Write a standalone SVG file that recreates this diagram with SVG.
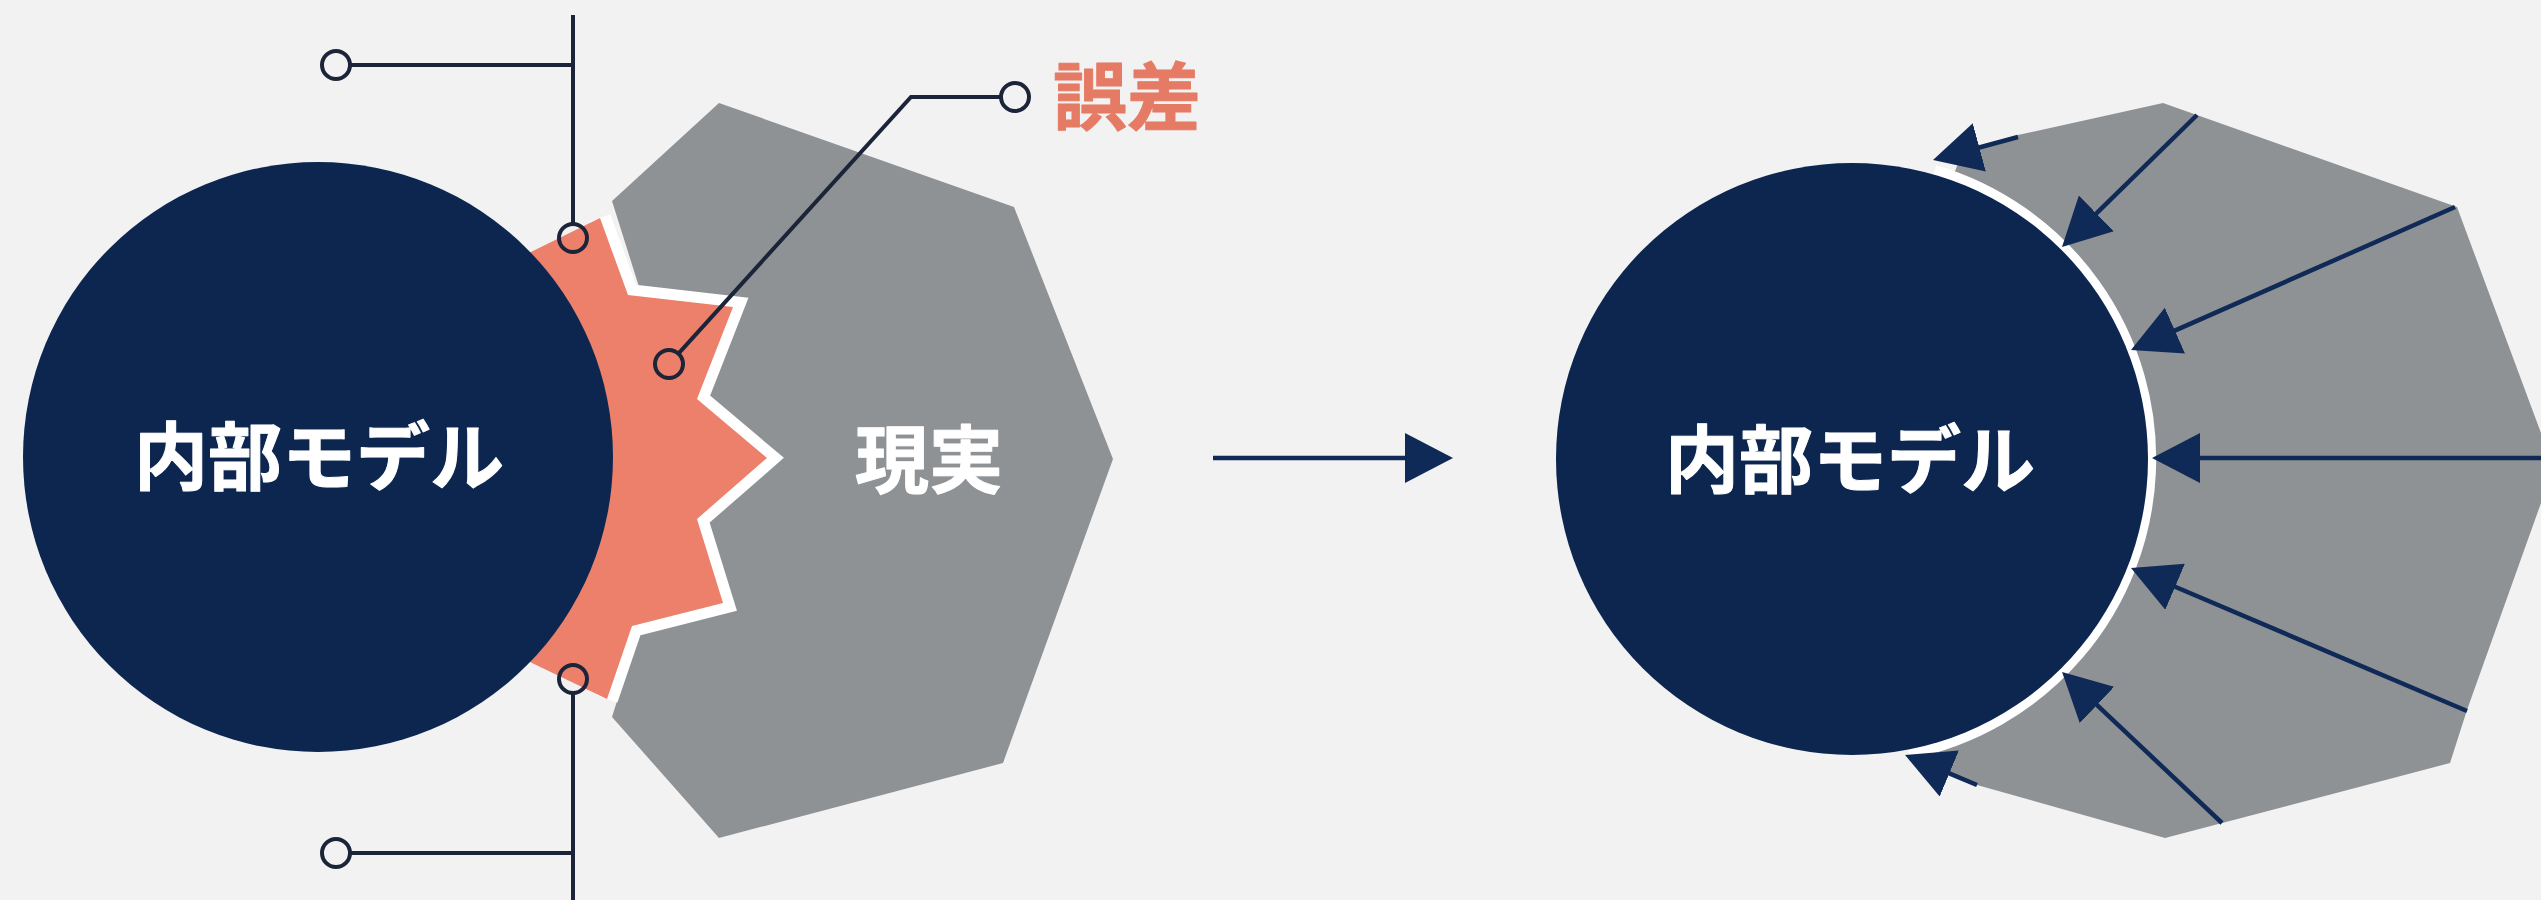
<svg xmlns="http://www.w3.org/2000/svg" width="2541" height="900" viewBox="0 0 2541 900">
  <defs>
    <style>
      .bg { fill: #f2f2f2; }
      .navy { fill: #0c2650; }
      .gray { fill: #8f9295; }
      .red { fill: #ec806b; }
      .gap { fill: none; stroke: #ffffff; stroke-width: 22; stroke-linejoin: miter; stroke-miterlimit: 10; }
      .ring { fill: none; stroke: #ffffff; stroke-width: 10; }
      .lbl { font-family: "Noto Sans CJK JP", "Noto Sans", sans-serif; font-weight: 700; font-size: 74px; text-anchor: middle; stroke-width: 1; stroke-linejoin: round; }
      .white { fill: #ffffff; stroke: #ffffff; }
      .err { fill: #e57b64; stroke: #e57b64; }
      .lead { fill: none; stroke: #1b2438; stroke-width: 4; }
      .arrow { fill: none; stroke: #0f2a57; stroke-width: 4.5; marker-end: url(#ah); }
    </style>
    <marker id="ah" viewBox="0 0 48 50" refX="2" refY="25" markerWidth="48" markerHeight="50" markerUnits="userSpaceOnUse" orient="auto">
      <path d="M0,0 L48,25 L0,50 Z" fill="#0f2a57"/>
    </marker>
  </defs>

  <rect class="bg" x="0" y="0" width="2541" height="900"/>

  <g id="reality-left">
    <polygon class="gray" points="612,201 719,103 1014,207 1113,459 1003,763 719,838 612,717 640,628 700,615 700,300 640,290"/>
    <text class="lbl white" x="929" y="487">現実</text>
  </g>

  <g id="error-region">
    <polyline class="gap" points="600,218 628,295 733,307 697,399 767,458 697,519 723,603 632,626 607,699"/>
    <polygon class="red" points="480,277 600,218 628,295 733,307 697,399 767,458 697,519 723,603 632,626 607,699 480,638"/>
  </g>

  <g id="model-left">
    <circle class="navy" cx="318" cy="457" r="295"/>
    <text class="lbl white" x="319" y="484">内部モデル</text>
  </g>

  <g id="reality-right">
    <polygon class="gray" points="1962,152 2018,135 2163,103 2457,207 2541,433 2541,503 2467,710 2450,763 2165,838 1977,785 1940,770 1852,459"/>
    <path class="ring" d="M1935,170 A301,301 0 0 1 1909,754"/>
  </g>

  <g id="model-right">
    <circle class="navy" cx="1852" cy="459" r="296"/>
    <text class="lbl white" x="1850" y="487">内部モデル</text>
  </g>

  <g id="error-label">
    <text class="lbl err" x="1127" y="124">誤差</text>
  </g>

  <g id="connectors">
    <line class="lead" x1="573" y1="15" x2="573" y2="224"/>
    <line class="lead" x1="350" y1="65" x2="573" y2="65"/>
    <circle class="lead" cx="336" cy="65" r="14"/>
    <circle class="lead" cx="573" cy="238" r="14"/>

    <line class="lead" x1="573" y1="693" x2="573" y2="900"/>
    <line class="lead" x1="350" y1="853" x2="573" y2="853"/>
    <circle class="lead" cx="336" cy="853" r="14"/>
    <circle class="lead" cx="573" cy="679" r="14"/>

    <polyline class="lead" points="1001,97 911,97 678.4,353.6"/>
    <circle class="lead" cx="669" cy="364" r="14"/>
    <circle class="lead" cx="1015" cy="97" r="14"/>

    <line class="arrow" x1="1213" y1="458" x2="1407" y2="458"/>

    <line class="arrow" x1="2018" y1="137" x2="1977.4" y2="148"/>
    <line class="arrow" x1="2197" y1="115" x2="2094.9" y2="214.8"/>
    <line class="arrow" x1="2455" y1="207" x2="2173.1" y2="331.4"/>
    <line class="arrow" x1="2545" y1="458" x2="2198" y2="458"/>
    <line class="arrow" x1="2467" y1="711" x2="2173.3" y2="586"/>
    <line class="arrow" x1="2222" y1="823" x2="2095.5" y2="703.6"/>
    <line class="arrow" x1="1977" y1="785" x2="1947.5" y2="772.7"/>
  </g>
</svg>
